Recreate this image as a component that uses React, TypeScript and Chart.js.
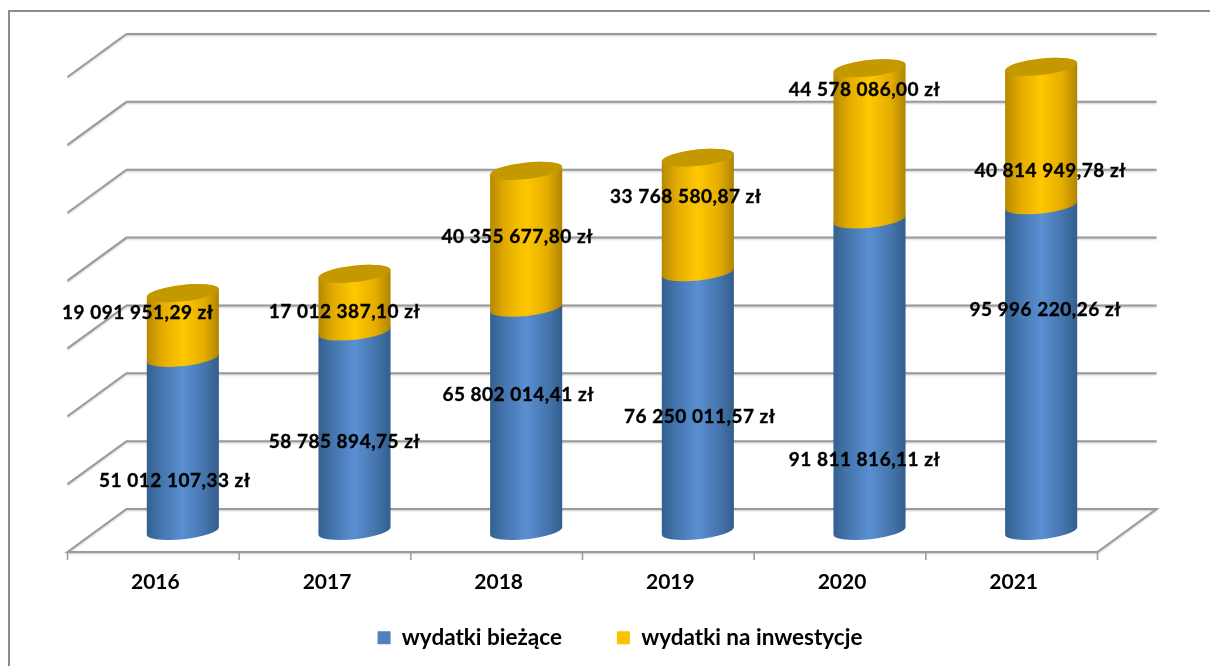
import React, { useEffect, useRef } from "react";
import { Chart, registerables } from "chart.js";

Chart.register(...registerables);

const years = ["2016", "2017", "2018", "2019", "2020", "2021"];
const wydatkiBiezace = [51012107.33, 58785894.75, 65802014.41, 76250011.57, 91811816.11, 95996220.26];
const wydatkiInwestycje = [19091951.29, 17012387.1, 40355677.8, 33768580.87, 44578086.0, 40814949.78];
const seriesNames = ["wydatki bieżące", "wydatki na inwestycje"];
const seriesColors = ["#4F81BD", "#FFC000"];

// label nudges relative to the centre of each segment
const nudgeBiezace = [[-8, 36], [-10, 11], [-8, -24], [2, 15], [-5, 85], [4, -58]];
const nudgeInwestycje = [[-45, -13], [-10, 9], [-9, -2], [-12, -18], [-5, -54], [9, 35]];

const FONT = "Lato, 'Open Sans', sans-serif";
const TILT = (-6.3 * Math.PI) / 180;
const RY = 8.2;
const DX = 29.5;
const BACK = 22;
const FRONT = 21;
const LINE = "#9a9a9a";

const blueStops: [number, string][] = [[0, "#33608f"], [0.18, "#4373ab"], [0.5, "#5a8fd2"], [0.82, "#4373aa"], [1, "#335e8c"]];
const goldStops: [number, string][] = [[0, "#b58800"], [0.2, "#e2aa00"], [0.5, "#ffc800"], [0.8, "#e4ac00"], [1, "#af8400"]];
const stopsBySeries = [blueStops, goldStops];

const fmt = (v: number) => {
  const [i, d] = v.toFixed(2).split(".");
  return i.replace(/\B(?=(\d{3})+$)/g, " ") + "," + d + " zł";
};

const cylinderPlugin = {
  id: "cylinders",
  beforeDraw(chart: any) {
    const { ctx, width, height } = chart;
    ctx.save();
    ctx.strokeStyle = "#8c8c8c";
    ctx.lineWidth = 2;
    ctx.beginPath();
    ctx.moveTo(9, height);
    ctx.lineTo(9, 11);
    ctx.lineTo(width, 11);
    ctx.stroke();
    ctx.restore();
  },
  beforeDatasetsDraw(chart: any) {
    const { ctx } = chart;
    const x = chart.scales.x;
    const y = chart.scales.y;
    const fl = x.left - DX;
    const bl = x.left + DX;
    const br = x.right + DX;
    const fr = x.right - DX;
    ctx.save();
    ctx.strokeStyle = LINE;
    ctx.lineWidth = 2;
    ctx.shadowColor = "rgba(0,0,0,0.22)";
    ctx.shadowBlur = 2;
    ctx.shadowOffsetY = 1;
    for (const t of y.ticks) {
      const py = y.getPixelForValue(t.value);
      ctx.beginPath();
      ctx.moveTo(fl, py + FRONT);
      ctx.lineTo(bl, py - BACK);
      ctx.lineTo(br, py - BACK);
      if (t.value === 0) {
        ctx.lineTo(fr, py + FRONT);
        ctx.closePath();
      }
      ctx.stroke();
    }
    // category separators below the floor
    const base = y.getPixelForValue(0) + FRONT;
    const step = (x.right - x.left) / years.length;
    ctx.shadowColor = "transparent";
    ctx.lineWidth = 1.5;
    for (let i = 0; i <= years.length; i++) {
      const px = fl + step * i;
      ctx.beginPath();
      ctx.moveTo(px, base);
      ctx.lineTo(px, base + 8);
      ctx.stroke();
    }
    ctx.restore();

    // cylinders, built from each bar element's position
    chart.data.datasets.forEach((_: any, di: number) => {
      const meta = chart.getDatasetMeta(di);
      meta.data.forEach((el: any) => {
        const rx = el.width / 2 / Math.cos(TILT);
        const g = ctx.createLinearGradient(el.x - el.width / 2, 0, el.x + el.width / 2, 0);
        stopsBySeries[di].forEach(([o, c]) => g.addColorStop(o, c));
        ctx.save();
        ctx.fillStyle = g;
        ctx.beginPath();
        ctx.ellipse(el.x, el.base, rx, RY, TILT, 0, Math.PI);
        ctx.ellipse(el.x, el.y, rx, RY, TILT, Math.PI, Math.PI * 2);
        ctx.closePath();
        ctx.fill();
        if (di === chart.data.datasets.length - 1) {
          ctx.fillStyle = "#c49900";
          ctx.beginPath();
          ctx.ellipse(el.x, el.y, rx, RY, TILT, 0, Math.PI * 2);
          ctx.fill();
        }
        ctx.restore();
      });
    });
  },
  beforeDatasetDraw() {
    return false;
  },
  afterLayout(chart: any) {
    if (chart.legend) {
      chart.legend.left += 8;
      chart.legend.right += 8;
      chart.legend.top -= 23.5;
      chart.legend.bottom -= 23.5;
    }
  },
  afterDatasetsDraw(chart: any) {
    const { ctx } = chart;
    ctx.save();
    ctx.font = `bold 19px ${FONT}`;
    (ctx as any).letterSpacing = "0.5px";
    ctx.fillStyle = "#000";
    ctx.strokeStyle = "#000";
    ctx.lineWidth = 0.35;
    ctx.textAlign = "center";
    ctx.textBaseline = "middle";
    const nudges = [nudgeBiezace, nudgeInwestycje];
    chart.data.datasets.forEach((ds: any, di: number) => {
      chart.getDatasetMeta(di).data.forEach((el: any, i: number) => {
        const [nx, ny] = nudges[di][i];
        const tx = el.x + nx;
        const ty = (el.y + el.base) / 2 + ny;
        ctx.fillText(fmt(ds.data[i]), tx, ty);
        ctx.strokeText(fmt(ds.data[i]), tx, ty);
      });
    });
    ctx.restore();
  },
};

export default function App() {
  const ref = useRef<HTMLCanvasElement>(null);
  useEffect(() => {
    document.body.style.margin = "0";
    document.body.style.background = "#fff";
    const chart = new Chart(ref.current!, {
      type: "bar",
      data: {
        labels: years,
        datasets: [
          { label: seriesNames[0], data: wydatkiBiezace, backgroundColor: seriesColors[0] },
          { label: seriesNames[1], data: wydatkiInwestycje, backgroundColor: seriesColors[1] },
        ],
      },
      options: {
        responsive: false,
        animation: false,
        layout: { padding: { left: 97, right: 83, top: 56, bottom: -16.5 } },
        datasets: { bar: { barPercentage: 0.42, categoryPercentage: 1 } },
        scales: {
          x: {
            stacked: true,
            grid: { display: false, drawTicks: false },
            border: { display: false },
            afterFit: (s: any) => {
              s.height = 64;
            },
            ticks: {
              color: "#000",
              font: { family: FONT, weight: "bold", size: 21 },
              padding: 39,
              labelOffset: -DX + 2,
              maxRotation: 0,
              autoSkip: false,
            },
          },
          y: { stacked: true, display: false, min: 0, max: 140000000, ticks: { stepSize: 20000000 } },
        },
        plugins: {
          tooltip: { enabled: false },
          legend: {
            position: "bottom",
            labels: {
              color: "#000",
              font: { family: FONT, weight: "bold", size: 22.5 },
              boxWidth: 13,
              boxHeight: 13,
              padding: 55,
            },
          },
        },
      } as any,
      plugins: [cylinderPlugin as any],
    });
    return () => chart.destroy();
  }, []);
  return (
    <div style={{ width: 1210, height: 666, overflow: "hidden" }}>
      <canvas ref={ref} width={1210} height={666} style={{ display: "block" }} />
    </div>
  );
}
